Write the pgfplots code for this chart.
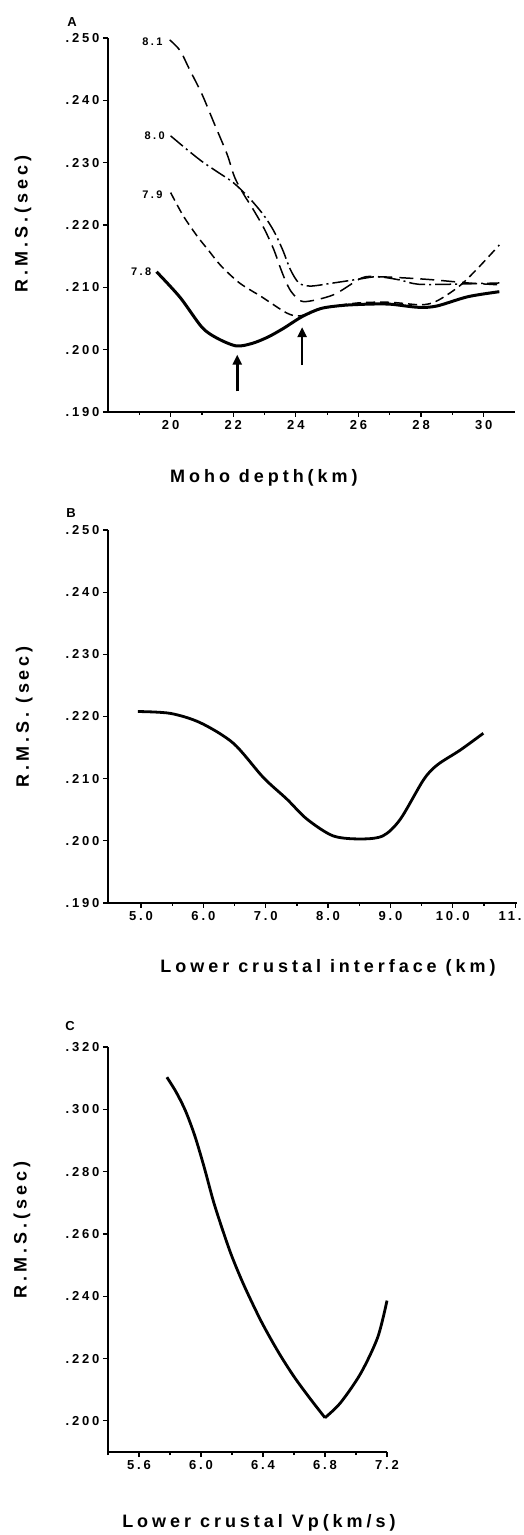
\documentclass[border=0pt]{standalone}
\usepackage{fontspec}
\setmainfont{Liberation Sans}
\newfontfamily\labfont{Liberation Sans}[LetterSpace=22]
\usepackage{pgfplots}
\pgfplotsset{compat=1.18}
\usetikzlibrary{arrows.meta}
\newcommand\tickfont{\labfont\bfseries\fontsize{13}{13}\selectfont}
\newcommand\axfont{\labfont\bfseries\fontsize{18}{18}\selectfont}
\newcommand\curvefont{\labfont\bfseries\fontsize{11}{11}\selectfont}
\pgfplotsset{
  myaxis/.style={
    scale only axis,
    axis lines=left,
    axis line style={line width=1.6pt,-},
    tick style={line width=1.2pt,black},
    tick align=outside,
    major tick length=5pt,
    minor tick length=3pt,
    ticklabel style={font=\tickfont},
    xlabel style={font=\axfont,anchor=center},
    ylabel style={font=\axfont,anchor=center},
    clip=false,
  }
}
\begin{document}
\begin{tikzpicture}[x=1pt,y=1pt]
\useasboundingbox (0,0) rectangle (523,1535);
% ---------------- Panel A ----------------
\begin{axis}[myaxis,
  at={(108pt,1123pt)}, anchor=south west,
  width=407pt, height=374pt,
  xmin=18, xmax=31, ymin=0.190, ymax=0.250,
  xtick={20,22,24,26,28,30}, xticklabels={20,22,24,26,28,30},
  minor xtick={19,21,23,25,27,29},
  ytick={0.19,0.20,0.21,0.22,0.23,0.24,0.25},
  yticklabels={.190,.200,.210,.220,.230,.240,.250},
  xlabel={Moho depth(km)},
  ylabel={R.M.S.(sec)},
  xlabel style={at={(axis description cs:0.383,-0.176)}},
  ylabel style={at={(axis description cs:-0.209,0.503)}},
]
% 7.8 solid
\addplot[black, line width=3pt, smooth] coordinates {
(19.55,0.2125) (20.3,0.2084) (21.0,0.2036) (21.5,0.2018) (22.1,0.2006)
(22.6,0.2010) (23.1,0.2020) (23.6,0.2034) (24.2,0.2053) (24.8,0.2066)
(25.5,0.2071) (26.3,0.2073) (27.0,0.2073) (27.9,0.2068) (28.5,0.2070)
(29.5,0.2085) (30.5,0.2093)};
% 7.9 short dashes
\addplot[black, line width=1.5pt, smooth, dash pattern=on 9pt off 5pt] coordinates {
(20.0,0.2252) (20.4,0.2215) (20.85,0.2182) (21.2,0.2160) (21.6,0.2135)
(22.2,0.2107) (22.9,0.2085) (23.7,0.2059) (24.1,0.2054) (24.5,0.2060)
(25.0,0.2068) (26.0,0.2075) (27.0,0.2076) (28.0,0.2072) (28.5,0.2078)
(29.2,0.2101) (29.8,0.2130) (30.5,0.2168)};
% 8.0 dash-dot
\addplot[black, line width=1.5pt, smooth, dash pattern=on 16pt off 4pt on 2pt off 4pt] coordinates {
(20.0,0.2343) (20.5,0.2322) (21.0,0.2302) (21.5,0.2285) (22.0,0.2268)
(22.5,0.2244) (22.97,0.2216) (23.3,0.2190) (23.58,0.2160) (23.83,0.2128)
(24.1,0.2107) (24.47,0.2102) (25.2,0.2107) (26.0,0.2113) (26.6,0.2117)
(27.3,0.2112) (27.9,0.2105) (29.0,0.2105) (30.5,0.2107)};
% 8.1 long dashes
\addplot[black, line width=1.5pt, smooth, dash pattern=on 14pt off 7pt] coordinates {
(19.97,0.2497) (20.3,0.2480) (20.6,0.2450) (21.0,0.2410) (21.4,0.2362)
(21.8,0.2314) (22.05,0.2276) (22.35,0.2248) (22.65,0.2224) (23.0,0.2193)
(23.3,0.2160) (23.5,0.2132) (23.7,0.2107) (23.9,0.2090) (24.25,0.2077)
(25.2,0.2088) (26.1,0.2115) (26.6,0.2117) (27.5,0.2115) (28.4,0.2112)
(29.5,0.2107) (30.5,0.2104)};
\node[anchor=east,font=\curvefont,inner sep=1pt] at (axis cs:19.78,0.2494) {8.1};
\node[anchor=east,font=\curvefont,inner sep=1pt] at (axis cs:19.85,0.2343) {8.0};
\node[anchor=east,font=\curvefont,inner sep=1pt] at (axis cs:19.78,0.2248) {7.9};
\node[anchor=east,font=\curvefont,inner sep=1pt] at (axis cs:19.42,0.2125) {7.8};
\draw[line width=2.4pt,-{Triangle[length=10pt,width=9pt]}] (axis cs:22.13,0.1933) -- (axis cs:22.13,0.1992);
\draw[line width=2.4pt,-{Triangle[length=10pt,width=9pt]}] (axis cs:24.2,0.1975) -- (axis cs:24.2,0.2036);
\end{axis}
% ---------------- Panel B ----------------
\begin{axis}[myaxis,
  at={(108pt,632pt)}, anchor=south west,
  width=409pt, height=373pt,
  xmin=4.47, xmax=11.03, ymin=0.190, ymax=0.250,
  xtick={5,6,7,8,9,10,11}, xticklabels={5.0,6.0,7.0,8.0,9.0,10.0,11.0},
  minor xtick={5.5,6.5,7.5,8.5,9.5,10.5},
  ytick={0.19,0.20,0.21,0.22,0.23,0.24,0.25},
  yticklabels={.190,.200,.210,.220,.230,.240,.250},
  xlabel={Lower crustal interface (km)},
  ylabel={R.M.S. (sec)},
  xlabel style={at={(axis description cs:0.538,-0.174)}},
  ylabel style={at={(axis description cs:-0.205,0.499)}},
]
\addplot[black, line width=2.8pt, smooth] coordinates {
(4.95,0.2208) (5.47,0.2205) (5.95,0.2190) (6.48,0.2157) (6.96,0.2102)
(7.34,0.2067) (7.66,0.2035) (8.08,0.2008) (8.52,0.2003) (8.88,0.2008)
(9.16,0.2035) (9.53,0.2098) (9.75,0.2122) (10.12,0.2146) (10.49,0.2173)};
\end{axis}
% ---------------- Panel C ----------------
\begin{axis}[myaxis,
  at={(108pt,83pt)}, anchor=south west,
  width=279pt, height=405pt,
  xmin=5.4, xmax=7.2, ymin=0.190, ymax=0.320,
  xtick={5.6,6.0,6.4,6.8,7.2}, xticklabels={5.6,6.0,6.4,6.8,7.2},
  minor xtick={5.4,5.8,6.2,6.6,7.0},
  ytick={0.20,0.22,0.24,0.26,0.28,0.30,0.32},
  yticklabels={.200,.220,.240,.260,.280,.300,.320},
  xlabel={Lower crustal Vp(km/s)},
  ylabel={R.M.S.(sec)},
  xlabel style={at={(axis description cs:0.541,-0.175)}},
  ylabel style={at={(axis description cs:-0.308,0.548)}},
]
\addplot[black, line width=2.8pt, smooth, tension=0.5] coordinates {
(5.78,0.3103) (5.84,0.3055) (5.90,0.2995) (5.96,0.2915) (6.02,0.2815)
(6.08,0.2705) (6.14,0.2612) (6.20,0.2527) (6.28,0.2432) (6.39,0.2318)
(6.50,0.2220) (6.60,0.2142) (6.70,0.2074) (6.80,0.2010)};
\addplot[black, line width=2.8pt, smooth, tension=0.5] coordinates {
(6.80,0.2010) (6.90,0.2058) (7.03,0.2152) (7.14,0.2268) (7.2,0.2386)};
\end{axis}
\node[font=\labfont\bfseries\fontsize{13}{13}\selectfont] at (72,1513) {A};
\node[font=\labfont\bfseries\fontsize{13}{13}\selectfont] at (71,1022) {B};
\node[font=\labfont\bfseries\fontsize{13}{13}\selectfont] at (70,509) {C};
\end{tikzpicture}
\end{document}
